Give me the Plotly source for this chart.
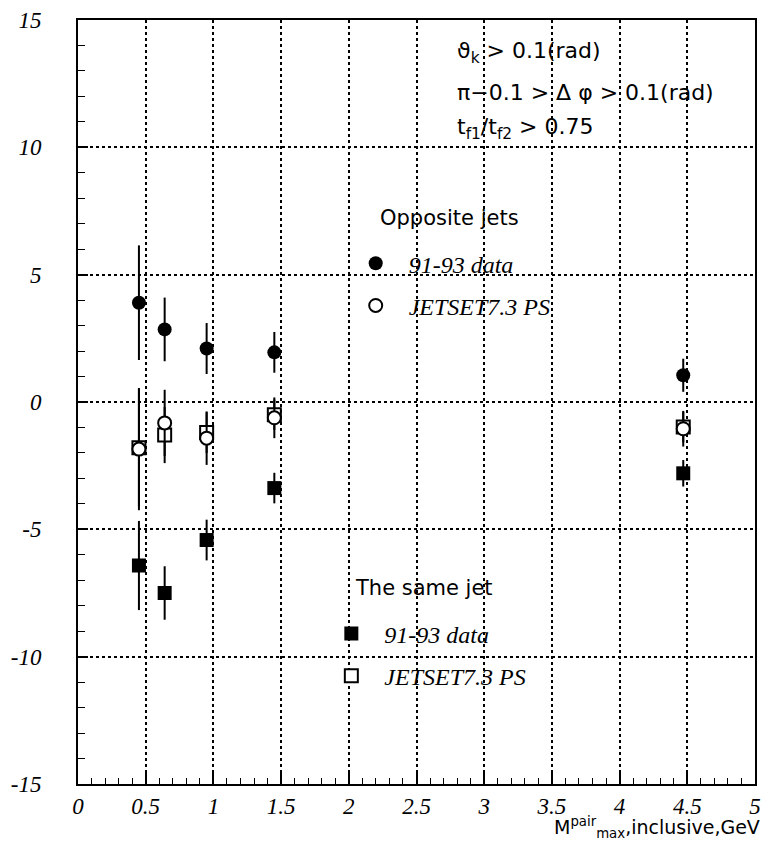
import plotly.graph_objects as go

# Mass bins (GeV)
x_bins = [0.45, 0.64, 0.95, 1.45, 4.47]

# Opposite jets
opp_data = [3.9, 2.85, 2.1, 1.95, 1.05]
opp_data_err = [2.25, 1.25, 1.0, 0.8, 0.65]
opp_mc = [-1.85, -0.82, -1.42, -0.62, -1.05]
opp_mc_err = [2.4, 1.3, 1.05, 0.8, 0.7]

# The same jet
same_data = [-6.42, -7.5, -5.42, -3.38, -2.8]
same_data_err = [1.75, 1.05, 0.8, 0.6, 0.52]
same_mc = [-1.8, -1.3, -1.2, -0.5, -0.98]
same_mc_err = [2.3, 1.1, 0.8, 0.6, 0.6]

x_ticks = [0, 0.5, 1, 1.5, 2, 2.5, 3, 3.5, 4, 4.5, 5]
x_ticklabels = ["0", "0.5", "1", "1.5", "2", "2.5", "3", "3.5", "4", "4.5", "5"]
y_ticks = [-15, -10, -5, 0, 5, 10, 15]
y_ticklabels = ["-15", "-10", "-5", "0", "5", "10", "15"]

SANS = "DejaVu Sans"
SERIF = "Liberation Serif"


def err(values):
    return dict(type="data", array=values, visible=True, color="black",
                thickness=2, width=0)


def italic(labels):
    return [f"<i>{t}</i>" for t in labels]


fig = go.Figure()

fig.add_trace(go.Scatter(
    x=x_bins, y=same_mc, mode="markers", name="JETSET7.3 PS",
    error_y=err(same_mc_err),
    marker=dict(symbol="square", size=13, color="white",
                line=dict(color="black", width=2)),
    legend="legend2", legendgroup="s2", legendrank=2))
fig.add_trace(go.Scatter(
    x=x_bins, y=opp_mc, mode="markers", name="JETSET7.3 PS",
    error_y=err(opp_mc_err),
    marker=dict(symbol="circle", size=13, color="white",
                line=dict(color="black", width=2)),
    legend="legend", legendgroup="o2", legendrank=2))
fig.add_trace(go.Scatter(
    x=x_bins, y=opp_data, mode="markers", name="91-93 data",
    error_y=err(opp_data_err),
    marker=dict(symbol="circle", size=14, color="black"),
    legend="legend", legendgroup="o1", legendrank=1))
fig.add_trace(go.Scatter(
    x=x_bins, y=same_data, mode="markers", name="91-93 data",
    error_y=err(same_data_err),
    marker=dict(symbol="square", size=14, color="black"),
    legend="legend2", legendgroup="s1", legendrank=1))

legend_common = dict(
    bgcolor="rgba(0,0,0,0)",
    font=dict(family=SERIF, size=24, color="black", style="italic"),
    itemwidth=56, tracegroupgap=8, xanchor="left", yanchor="top",
)

axis_common = dict(
    tickcolor="black", tickwidth=1.5, ticks="inside",
    showgrid=True, gridcolor="black", griddash="dot", gridwidth=1.5,
    showline=True, linecolor="black", linewidth=2, mirror=True,
    zeroline=False, automargin=False,
    tickfont=dict(family=SERIF, size=23, color="black", style="italic"),
)

fig.update_layout(
    width=765, height=844,
    margin=dict(l=78, r=10, t=20, b=60),
    paper_bgcolor="white", plot_bgcolor="white",
    legend=dict(x=0.391, y=0.7105, **legend_common),
    legend2=dict(x=0.355, y=0.226, **legend_common),
    xaxis=dict(
        range=[0, 5], tickvals=x_ticks, ticktext=italic(x_ticklabels),
        ticklen=12,
        minor=dict(dtick=0.1, ticks="inside", ticklen=6, tickwidth=1.2,
                   tickcolor="black", showgrid=False),
        ticklabelstandoff=0,
        **axis_common,
    ),
    yaxis=dict(
        range=[-15, 15], tickvals=y_ticks, ticktext=italic(y_ticklabels),
        ticklen=10,
        minor=dict(dtick=1, ticks="inside", ticklen=7, tickwidth=1.2,
                   tickcolor="black", showgrid=False),
        ticklabelstandoff=30,
        **axis_common,
    ),
)

# Legend group headings
fig.add_annotation(text="Opposite jets", x=(378 - 78) / 677, y=(784 - 218) / 764,
                   xref="paper", yref="paper", xanchor="left", yanchor="middle",
                   showarrow=False, font=dict(family=SANS, size=21, color="black"))
fig.add_annotation(text="The same jet", x=(353 - 78) / 677, y=(784 - 588) / 764,
                   xref="paper", yref="paper", xanchor="left", yanchor="middle",
                   showarrow=False, font=dict(family=SANS, size=21, color="black"))

# Selection cuts
cuts = [
    ("ϑ<sub>k</sub> > 0.1(rad)", 0.958),
    ("π−0.1 > Δ φ > 0.1(rad)", 0.905),
    ("t<sub>f1</sub>/t<sub>f2</sub> > 0.75", 0.858),
]
for text, yy in cuts:
    fig.add_annotation(
        text=text, x=0.557, y=yy, xref="paper", yref="paper",
        xanchor="left", yanchor="middle", showarrow=False,
        font=dict(family=SANS, size=22, color="black"))

# Axis title, anchored to the bottom edge of the page
fig.add_annotation(
    text="M<sup>pair</sup><sub>max</sub>,inclusive,GeV",
    x=1.01, y=(784 - 843) / 764, xref="paper", yref="paper",
    xanchor="right", yanchor="bottom", showarrow=False,
    font=dict(family=SANS, size=19, color="black"))

fig.write_html("out.html")
